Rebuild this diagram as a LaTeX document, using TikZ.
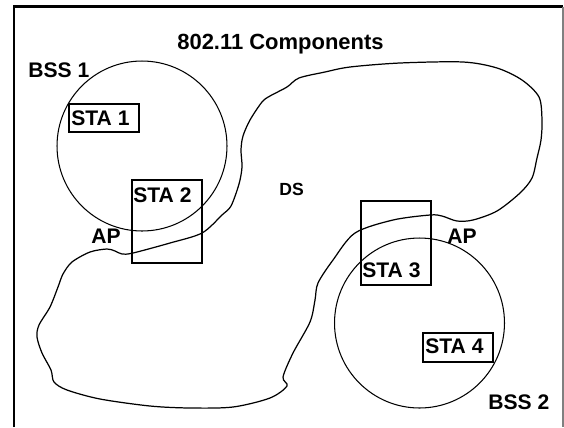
\documentclass[tikz,border=0pt]{standalone}
\usepackage{fontspec}
\setmainfont{Liberation Sans}
\begin{document}
\begin{tikzpicture}[x=0.02cm,y=-0.02cm,
  every node/.style={font=\fontsize{12}{14}\selectfont\bfseries},
  lbl/.style={anchor=base west,inner sep=0pt},
  stabox/.style={draw,line width=0.6pt,minimum width=1.4cm,inner sep=0pt},
  cell/.style={draw,circle,line width=0.6pt,minimum size=3.4cm,inner sep=0pt}]
\useasboundingbox (0,0) rectangle (564,427);
\draw[line width=1.5pt] (14,427) -- (14,6.5) -- (563,6.5);
\draw[line width=0.8pt,gray] (563,6.5) -- (563,427);
\node[lbl,font=\fontsize{12.5}{14}\selectfont\bfseries] (title) at (177,49) {802.11 Components};
\node[cell] (bss1) at (142,146) {};
\node[cell] (bss2) at (419.5,323) {};
\draw[line width=0.7pt] plot[smooth cycle,tension=0.5] coordinates {
  (299,78) (325,72) (350,67) (400,63) (463,62) (497,68) (522,80) (539,97)
  (542,120) (541,140) (537,158) (532,178) (520,193) (497,211) (473,220)
  (457,221) (442,216) (430,215) (393,220) (355,233) (333,260) (318,283)
  (315,300) (310,322) (293,353) (283,377) (287,386) (270,398) (233,407)
  (190,408) (150,406) (100,399) (67,390) (54,382) (51,370) (42,353)
  (37,337) (39,325) (50,307) (58,287) (63,274) (72,262) (90,252) (107,249)
  (115,251) (122,254) (133,253) (170,243) (202,233) (222,215) (231,206)
  (239,184) (242,167) (241,150) (243,136) (250,120) (262,102) (270,96)
  (287,87)};
\node[stabox,minimum height=0.56cm] (sta1) at (104,118) {};
\node[stabox,minimum height=1.66cm] (sta2) at (167,221.5) {};
\node[stabox,minimum height=1.68cm] (sta3) at (396,243) {};
\node[stabox,minimum height=0.58cm] (sta4) at (458,347.5) {};
\node[lbl] (t1) at (71,125) {STA 1};
\node[lbl] (t2) at (133,202) {STA 2};
\node[lbl] (t3) at (362,277) {STA 3};
\node[lbl] (t4) at (425,353) {STA 4};
\node[lbl] (b1) at (28,77) {BSS 1};
\node[lbl] (b2) at (488,409) {BSS 2};
\node[lbl] (ap1) at (91,243) {AP};
\node[lbl] (ap2) at (447,243) {AP};
\node[lbl,font=\fontsize{10}{12}\selectfont\bfseries] (ds) at (279,195) {DS};
\end{tikzpicture}
\end{document}
